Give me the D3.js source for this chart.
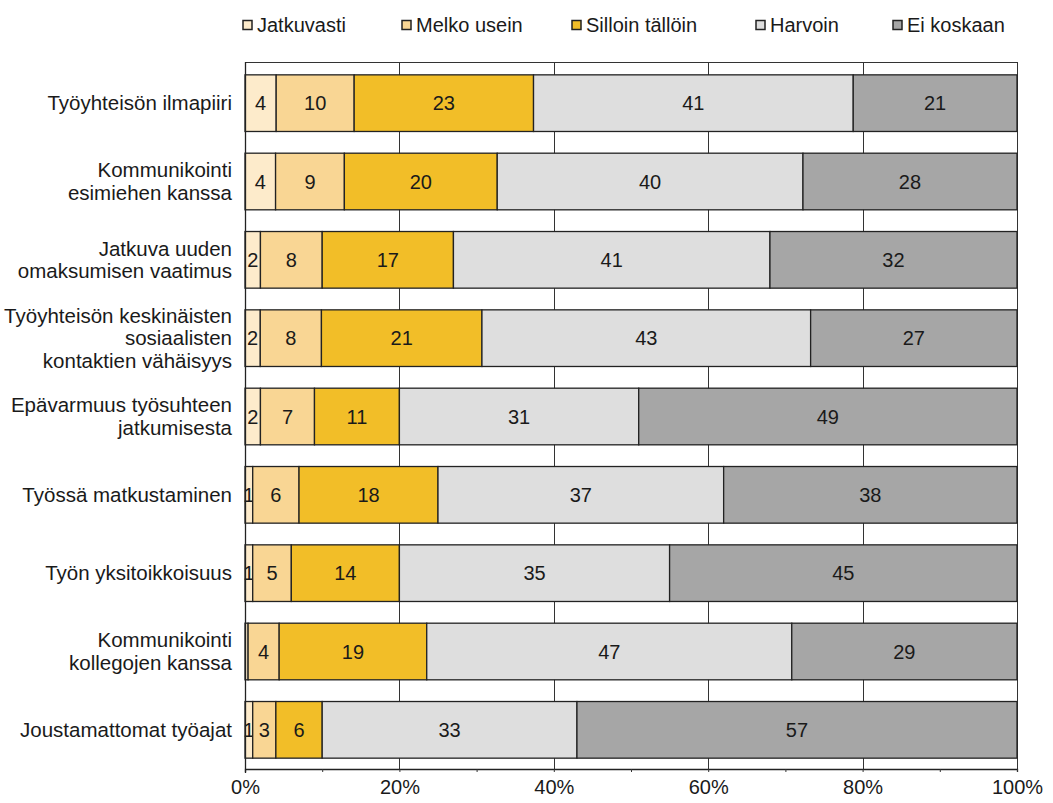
<!DOCTYPE html>
<html>
<head>
<meta charset="utf-8">
<script src="https://cdn.jsdelivr.net/npm/d3@7"></script>
<style>
  html, body { margin: 0; padding: 0; background: #fff; }
  svg { display: block; font-family: "Liberation Sans", Arial, sans-serif; }
</style>
</head>
<body>
<svg id="chart" width="1053" height="803"></svg>
<script>
// Category labels (line breaks marked with \n)
const categories = [
  "Työyhteisön ilmapiiri",
  "Kommunikointi\nesimiehen kanssa",
  "Jatkuva uuden\nomaksumisen vaatimus",
  "Työyhteisön keskinäisten\nsosiaalisten\nkontaktien vähäisyys",
  "Epävarmuus työsuhteen\njatkumisesta",
  "Työssä matkustaminen",
  "Työn yksitoikkoisuus",
  "Kommunikointi\nkollegojen kanssa",
  "Joustamattomat työajat"
];

const seriesNames = ["Jatkuvasti", "Melko usein", "Silloin tällöin", "Harvoin", "Ei koskaan"];

// Shares (%) per series, one value per category
const jatkuvasti     = [4, 4, 2, 2, 2, 1, 1, 0.4, 1];
const melkoUsein     = [10, 9, 8, 8, 7, 6, 5, 4, 3];
const silloinTalloin = [23, 20, 17, 21, 11, 18, 14, 19, 6];
const harvoin        = [41, 40, 41, 43, 31, 37, 35, 47, 33];
const eiKoskaan      = [21, 28, 32, 27, 49, 38, 45, 29, 57];

const xTicks = [0, 10, 20, 30, 40, 50, 60, 70, 80, 90, 100];
const xTickLabels = ["0%", "", "20%", "", "40%", "", "60%", "", "80%", "", "100%"];

const colors = ["#fdebcb", "#f9d694", "#f2be28", "#dedede", "#a6a6a6"];

const seriesValues = [jatkuvasti, melkoUsein, silloinTalloin, harvoin, eiKoskaan];
const rows = categories.map((c, i) => {
  const r = { category: c };
  seriesNames.forEach((s, k) => { r[s] = seriesValues[k][i]; });
  return r;
});

const svg = d3.select("#chart");
const plotLeft = 245, plotRight = 1017, plotTop = 62, plotBottom = 769;

const x = d3.scaleLinear().domain([0, 1]).range([plotLeft, plotRight]);
const y = d3.scaleBand().domain(categories).range([64, plotBottom])
  .paddingInner(0.277).paddingOuter(0.1385);

const stack = d3.stack().keys(seriesNames).offset(d3.stackOffsetExpand);
const stacked = stack(rows);

// Frame and vertical gridlines
const grid = svg.append("g").attr("stroke", "#333").attr("stroke-width", 1);
grid.append("line").attr("x1", plotLeft).attr("x2", plotRight)
  .attr("y1", plotTop + 0.5).attr("y2", plotTop + 0.5);
grid.selectAll("line.v").data([0, 20, 40, 60, 80, 100]).join("line")
  .attr("class", "v")
  .attr("x1", d => Math.round(x(d / 100)) + 0.5)
  .attr("x2", d => Math.round(x(d / 100)) + 0.5)
  .attr("y1", plotTop).attr("y2", plotBottom);

// Bars
const layers = svg.append("g").selectAll("g").data(stacked).join("g")
  .attr("fill", (d, i) => colors[i]);

layers.selectAll("rect").data(d => d.map(p => ({ p, key: d.key }))).join("rect")
  .attr("x", d => x(d.p[0]))
  .attr("width", d => x(d.p[1]) - x(d.p[0]))
  .attr("y", d => y(d.p.data.category))
  .attr("height", y.bandwidth())
  .attr("stroke", "#222")
  .attr("stroke-width", 1.3);

// Value labels
layers.selectAll("text").data(d => d.map(p => ({ p, key: d.key }))).join("text")
  .filter(d => d.p.data[d.key] >= 0.5)
  .attr("x", d => (x(d.p[0]) + x(d.p[1])) / 2)
  .attr("y", d => y(d.p.data.category) + y.bandwidth() / 2)
  .attr("dy", "0.35em")
  .attr("text-anchor", "middle")
  .attr("fill", "#1a1a1a")
  .attr("font-size", 20)
  .text(d => d3.format("d")(d.p.data[d.key]));

// Bottom axis
const xAxis = d3.axisBottom(x)
  .tickValues(xTicks.map(v => v / 100))
  .tickSize(3)
  .tickPadding(8)
  .tickFormat((d, i) => xTickLabels[i]);
const gx = svg.append("g").attr("transform", `translate(0,${plotBottom})`).call(xAxis);
gx.select(".domain").attr("stroke", "#222").attr("stroke-width", 1.3);
gx.selectAll(".tick line").attr("stroke", "#333");
gx.selectAll(".tick text").attr("font-size", 20).attr("fill", "#1a1a1a")
  .attr("font-family", "Liberation Sans, Arial, sans-serif");

// Left axis line
svg.append("line").attr("x1", plotLeft + 0.5).attr("x2", plotLeft + 0.5)
  .attr("y1", plotTop).attr("y2", plotBottom + 4)
  .attr("stroke", "#222").attr("stroke-width", 1.3);

// Category labels
const lineH = 22.5;
svg.append("g").selectAll("text").data(categories).join("text")
  .attr("text-anchor", "end")
  .attr("fill", "#1a1a1a")
  .attr("font-size", 20.5)
  .each(function (c) {
    const lines = c.split("\n");
    const cy = y(c) + y.bandwidth() / 2;
    const t = d3.select(this);
    lines.forEach((ln, i) => {
      t.append("tspan")
        .attr("x", 232)
        .attr("y", cy + (i - (lines.length - 1) / 2) * lineH)
        .attr("dy", "0.35em")
        .text(ln);
    });
  });

// Legend
const legendX = [243, 402, 572, 756, 893];
const legend = svg.append("g").selectAll("g").data(seriesNames).join("g")
  .attr("transform", (d, i) => `translate(${legendX[i]},25)`);
legend.append("rect")
  .attr("x", 0).attr("y", -4.5).attr("width", 9).attr("height", 9)
  .attr("fill", (d, i) => colors[i])
  .attr("stroke", "#222").attr("stroke-width", 1.5);
legend.append("text")
  .attr("x", 14).attr("dy", "0.35em")
  .attr("font-size", 20).attr("fill", "#1a1a1a")
  .text(d => d);
</script>
</body>
</html>
